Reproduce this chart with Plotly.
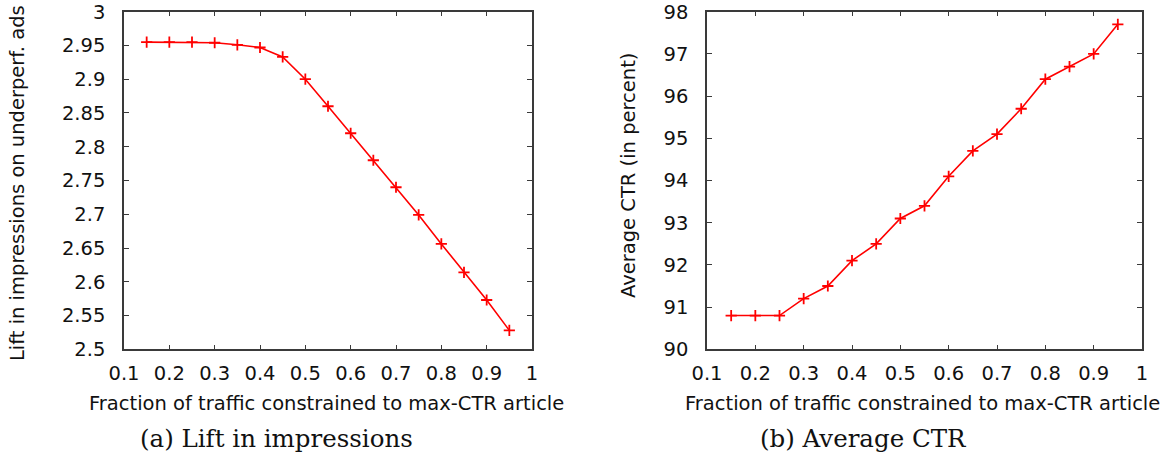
import plotly.graph_objects as go

fraction = [0.15, 0.2, 0.25, 0.3, 0.35, 0.4, 0.45, 0.5, 0.55, 0.6, 0.65, 0.7, 0.75, 0.8, 0.85, 0.9, 0.95]
lift = [2.955, 2.955, 2.955, 2.954, 2.951, 2.947, 2.933, 2.900, 2.860, 2.820, 2.780, 2.740, 2.699, 2.656, 2.614, 2.573, 2.528]
ctr = [90.8, 90.8, 90.8, 91.2, 91.5, 92.1, 92.5, 93.1, 93.4, 94.1, 94.7, 95.1, 95.7, 96.4, 96.7, 97.0, 97.7]

x_ticks = [0.1, 0.2, 0.3, 0.4, 0.5, 0.6, 0.7, 0.8, 0.9, 1.0]
x_ticktext = ["0.1", "0.2", "0.3", "0.4", "0.5", "0.6", "0.7", "0.8", "0.9", "1"]
lift_ticks = [2.5, 2.55, 2.6, 2.65, 2.7, 2.75, 2.8, 2.85, 2.9, 2.95, 3.0]
lift_ticktext = ["2.5", "2.55", "2.6", "2.65", "2.7", "2.75", "2.8", "2.85", "2.9", "2.95", "3"]
ctr_ticks = [90, 91, 92, 93, 94, 95, 96, 97, 98]
ctr_ticktext = ["90", "91", "92", "93", "94", "95", "96", "97", "98"]

x_title = "Fraction of traffic constrained to max-CTR article"
y_title_a = "Lift in impressions on underperf. ads"
y_title_b = "Average CTR (in percent)"
caption_a = "(a) Lift in impressions"
caption_b = "(b) Average CTR"

W, H = 1166, 460
dom_x1 = [124 / W, 532 / W]
dom_x2 = [707 / W, 1142 / W]
dom_y = [1 - 349.3 / H, 1 - 11.7 / H]

RED = "#ff0000"
AX = "#3a3a3a"
FONT = "DejaVu Sans"

fig = go.Figure()
fig.add_trace(go.Scatter(
    x=fraction, y=lift, mode="lines+markers", xaxis="x", yaxis="y",
    line=dict(color=RED, width=1.6),
    marker=dict(symbol="cross-thin", size=8, line=dict(color=RED, width=1.8), color=RED),
    showlegend=False))
fig.add_trace(go.Scatter(
    x=fraction, y=ctr, mode="lines+markers", xaxis="x2", yaxis="y2",
    line=dict(color=RED, width=1.6),
    marker=dict(symbol="cross-thin", size=8, line=dict(color=RED, width=1.8), color=RED),
    showlegend=False))

axis_common = dict(
    showgrid=False, zeroline=False, showline=True, linecolor=AX, linewidth=1.5,
    mirror="allticks", ticks="inside", ticklen=5, tickwidth=1, tickcolor=AX,
    automargin=False, ticklabeloverflow="allow",
    tickfont=dict(family=FONT, size=19.5, color="#111111"),
)

fig.update_layout(
    width=W, height=H,
    margin=dict(l=0, r=0, t=0, b=0),
    paper_bgcolor="white", plot_bgcolor="white",
    xaxis=dict(domain=dom_x1, anchor="y", range=[0.1, 1.0], tickvals=x_ticks, ticktext=x_ticktext,
               ticklabelstandoff=6, **axis_common),
    yaxis=dict(domain=dom_y, anchor="x", range=[2.5, 3.0], tickvals=lift_ticks, ticktext=lift_ticktext,
               ticklabelstandoff=13, **axis_common),
    xaxis2=dict(domain=dom_x2, anchor="y2", range=[0.1, 1.0], tickvals=x_ticks, ticktext=x_ticktext,
                ticklabelstandoff=6, **axis_common),
    yaxis2=dict(domain=dom_y, anchor="x2", range=[90, 98], tickvals=ctr_ticks, ticktext=ctr_ticktext,
                ticklabelstandoff=13, **axis_common),
)

cap_font = dict(family="DejaVu Serif", size=24.5, color="#111111")
fig.add_annotation(x=326 / W, y=1 - 403 / H, xref="paper", yref="paper", text=x_title,
                   showarrow=False, font=dict(family=FONT, size=19.5, color="#111111"),
                   xanchor="center", yanchor="middle")
fig.add_annotation(x=922 / W, y=1 - 403 / H, xref="paper", yref="paper", text=x_title,
                   showarrow=False, font=dict(family=FONT, size=19.5, color="#111111"),
                   xanchor="center", yanchor="middle")
fig.add_annotation(x=17 / W, y=1 - 183 / H, xref="paper", yref="paper", text=y_title_a,
                   showarrow=False, font=dict(family=FONT, size=19.5, color="#111111"),
                   textangle=-90, xanchor="center", yanchor="middle")
fig.add_annotation(x=628 / W, y=1 - 175 / H, xref="paper", yref="paper", text=y_title_b,
                   showarrow=False, font=dict(family=FONT, size=19.5, color="#111111"),
                   textangle=-90, xanchor="center", yanchor="middle")
fig.add_annotation(x=276 / W, y=1 - 438 / H, xref="paper", yref="paper", text=caption_a,
                   showarrow=False, font=cap_font, xanchor="center", yanchor="middle")
fig.add_annotation(x=863 / W, y=1 - 438 / H, xref="paper", yref="paper", text=caption_b,
                   showarrow=False, font=cap_font, xanchor="center", yanchor="middle")

fig.write_html("out.html", config={"displayModeBar": False},
               post_script="document.body.style.margin='0';")
